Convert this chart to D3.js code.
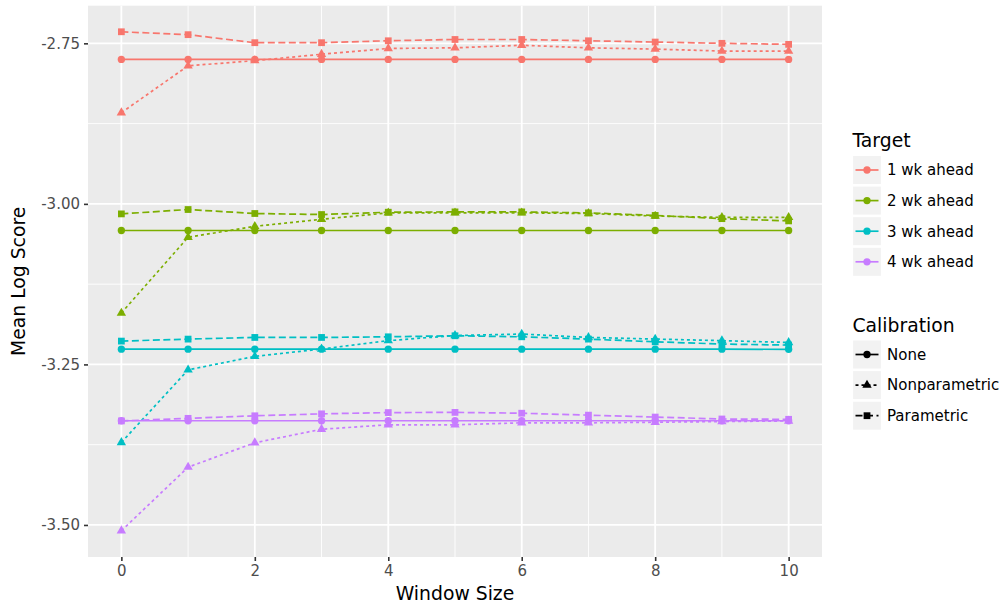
<html>
<head>
<meta charset="utf-8">
<script src="https://d3js.org/d3.v7.min.js"></script>
<style>
  body { margin: 0; background: white; }
  text { font-family: "DejaVu Sans", sans-serif; }
</style>
</head>
<body>
<div id="chart"></div>
<script>
// window sizes on the x axis
const windowSizes = [0, 1, 2, 3, 4, 5, 6, 7, 8, 9, 10];
const targets = ["1 wk ahead", "2 wk ahead", "3 wk ahead", "4 wk ahead"];
const calibrations = ["None", "Nonparametric", "Parametric"];
const yTicks = [-2.75, -3.00, -3.25, -3.50];
const xTicks = [0, 2, 4, 6, 8, 10];

// mean log score
const wk1None   = [-2.775, -2.775, -2.775, -2.775, -2.775, -2.775, -2.775, -2.775, -2.775, -2.775, -2.775];
const wk1Nonpar = [-2.858, -2.785, -2.777, -2.767, -2.758, -2.757, -2.753, -2.757, -2.759, -2.762, -2.762];
const wk1Par    = [-2.732, -2.7365, -2.749, -2.749, -2.746, -2.744, -2.744, -2.746, -2.748, -2.750, -2.7516];

const wk2None   = [-3.0415, -3.0415, -3.0415, -3.0415, -3.0415, -3.0415, -3.0415, -3.0415, -3.0415, -3.0415, -3.0415];
const wk2Nonpar = [-3.170, -3.052, -3.035, -3.024, -3.014, -3.014, -3.014, -3.015, -3.019, -3.021, -3.021];
const wk2Par    = [-3.0156, -3.0088, -3.015, -3.0166, -3.013, -3.0125, -3.0125, -3.014, -3.018, -3.023, -3.0265];

const wk3None   = [-3.2263, -3.2263, -3.2263, -3.2263, -3.2263, -3.2263, -3.2263, -3.2263, -3.2263, -3.2263, -3.2265];
const wk3Nonpar = [-3.3715, -3.2585, -3.2375, -3.226, -3.213, -3.205, -3.2027, -3.208, -3.2105, -3.213, -3.2158];
const wk3Par    = [-3.2137, -3.2106, -3.208, -3.208, -3.207, -3.2054, -3.207, -3.2106, -3.2148, -3.2183, -3.2199];

const wk4None   = [-3.3377, -3.3377, -3.3377, -3.3377, -3.3377, -3.3377, -3.3377, -3.3377, -3.3377, -3.3377, -3.3377];
const wk4Nonpar = [-3.509, -3.410, -3.372, -3.351, -3.344, -3.344, -3.341, -3.341, -3.340, -3.339, -3.338];
const wk4Par    = [-3.338, -3.334, -3.330, -3.327, -3.325, -3.3247, -3.326, -3.329, -3.332, -3.335, -3.3355];

const colors = ["#F8766D", "#7CAE00", "#00BFC4", "#C77CFF"];
const dashes = { "None": null, "Nonparametric": "3,3", "Parametric": "7,3.5" };
const shapes = { "None": d3.symbolCircle, "Nonparametric": d3.symbolTriangle, "Parametric": d3.symbolSquare };
const shapeSize = { "None": 42, "Nonparametric": 38, "Parametric": 46 };

const seriesValues = [
  [wk1None, wk1Nonpar, wk1Par],
  [wk2None, wk2Nonpar, wk2Par],
  [wk3None, wk3Nonpar, wk3Par],
  [wk4None, wk4Nonpar, wk4Par]
];

let series = [];
targets.forEach((t, i) => {
  calibrations.forEach((c, j) => {
    series.push({
      target: t, calib: c, color: colors[i],
      values: windowSizes.map((w, k) => ({ x: w, y: seriesValues[i][j][k] }))
    });
  });
});

const W = 1005, H = 605;
const panel = { left: 88, right: 822, top: 5.7, bottom: 557 };

let svg = d3.select("#chart").append("svg")
  .attr("width", W).attr("height", H);

const x = d3.scaleLinear().domain([-0.5, 10.5]).range([panel.left, panel.right]);
const y = d3.scaleLinear().domain([-3.5499, -2.6914]).range([panel.bottom, panel.top]);

// plain hyphen instead of unicode minus, like the original
const fmt2 = d => d3.format(".2f")(d).replace("\u2212", "-");

// panel background
svg.append("rect")
  .attr("x", panel.left).attr("y", panel.top)
  .attr("width", panel.right - panel.left).attr("height", panel.bottom - panel.top)
  .attr("fill", "#EBEBEB");

// minor grid
let minorX = [1, 3, 5, 7, 9];
let minorY = [-2.875, -3.125, -3.375];
svg.append("g").selectAll("line").data(minorX).join("line")
  .attr("x1", d => x(d)).attr("x2", d => x(d))
  .attr("y1", panel.top).attr("y2", panel.bottom)
  .attr("stroke", "white").attr("stroke-width", 0.9);
svg.append("g").selectAll("line").data(minorY).join("line")
  .attr("y1", d => y(d)).attr("y2", d => y(d))
  .attr("x1", panel.left).attr("x2", panel.right)
  .attr("stroke", "white").attr("stroke-width", 0.9);

// major grid
svg.append("g").selectAll("line").data(xTicks).join("line")
  .attr("x1", d => x(d)).attr("x2", d => x(d))
  .attr("y1", panel.top).attr("y2", panel.bottom)
  .attr("stroke", "white").attr("stroke-width", 1.8);
svg.append("g").selectAll("line").data(yTicks).join("line")
  .attr("y1", d => y(d)).attr("y2", d => y(d))
  .attr("x1", panel.left).attr("x2", panel.right)
  .attr("stroke", "white").attr("stroke-width", 1.8);

// axes
let xAxis = svg.append("g")
  .attr("transform", `translate(0,${panel.bottom})`)
  .call(d3.axisBottom(x).tickValues(xTicks).tickSize(4).tickPadding(4).tickFormat(d3.format("d")));
let yAxis = svg.append("g")
  .attr("transform", `translate(${panel.left},0)`)
  .call(d3.axisLeft(y).tickValues(yTicks).tickSize(4).tickPadding(4).tickFormat(fmt2));
[xAxis, yAxis].forEach(a => {
  a.select(".domain").remove();
  a.selectAll(".tick line").attr("stroke", "#333333").attr("stroke-width", 1.6);
  a.selectAll(".tick text")
    .attr("fill", "#4D4D4D")
    .style("font-size", "15px")
    .style("font-family", "DejaVu Sans");
});

// axis titles
svg.append("text")
  .attr("x", (panel.left + panel.right) / 2).attr("y", 600)
  .attr("text-anchor", "middle")
  .style("font-size", "18.8px")
  .text("Window Size");
svg.append("text")
  .attr("transform", `translate(25,${(panel.top + panel.bottom) / 2}) rotate(-90)`)
  .attr("text-anchor", "middle")
  .style("font-size", "18.8px")
  .text("Mean Log Score");

// lines
const line = d3.line().x(d => x(d.x)).y(d => y(d.y));
svg.append("g").selectAll("path").data(series).join("path")
  .attr("d", d => line(d.values))
  .attr("fill", "none")
  .attr("stroke", d => d.color)
  .attr("stroke-width", 1.7)
  .attr("stroke-dasharray", d => dashes[d.calib]);

// points
series.forEach(s => {
  svg.append("g").selectAll("path").data(s.values).join("path")
    .attr("transform", d => `translate(${x(d.x)},${y(d.y)})`)
    .attr("d", d3.symbol().type(shapes[s.calib]).size(shapeSize[s.calib]))
    .attr("fill", s.color);
});

// legends
function legendBlock(title, items, titleY, keyY0, drawKey) {
  let g = svg.append("g");
  g.append("text").attr("x", 852.5).attr("y", titleY)
    .style("font-size", "18.8px").text(title);
  items.forEach((it, i) => {
    let cy = keyY0 + i * 30.6;
    g.append("rect")
      .attr("x", 852.5).attr("y", cy - 14.6)
      .attr("width", 29).attr("height", 29.2)
      .attr("fill", "#F2F2F2").attr("stroke", "white").attr("stroke-width", 1.2);
    drawKey(g, it, i, cy);
    g.append("text").attr("x", 887).attr("y", cy + 5.3)
      .style("font-size", "15px").text(it);
  });
}

legendBlock("Target", targets, 147, 170, (g, it, i, cy) => {
  g.append("line").attr("x1", 855.5).attr("x2", 878.5).attr("y1", cy).attr("y2", cy)
    .attr("stroke", colors[i]).attr("stroke-width", 1.7);
  g.append("path").attr("transform", `translate(867,${cy})`)
    .attr("d", d3.symbol().type(d3.symbolCircle).size(42)).attr("fill", colors[i]);
});

legendBlock("Calibration", calibrations, 332, 354.5, (g, it, i, cy) => {
  g.append("line").attr("x1", 855.5).attr("x2", 878.5).attr("y1", cy).attr("y2", cy)
    .attr("stroke", "black").attr("stroke-width", 1.7)
    .attr("stroke-dasharray", dashes[it]);
  g.append("path").attr("transform", `translate(867,${cy})`)
    .attr("d", d3.symbol().type(shapes[it]).size(shapeSize[it])).attr("fill", "black");
});
</script>
</body>
</html>
